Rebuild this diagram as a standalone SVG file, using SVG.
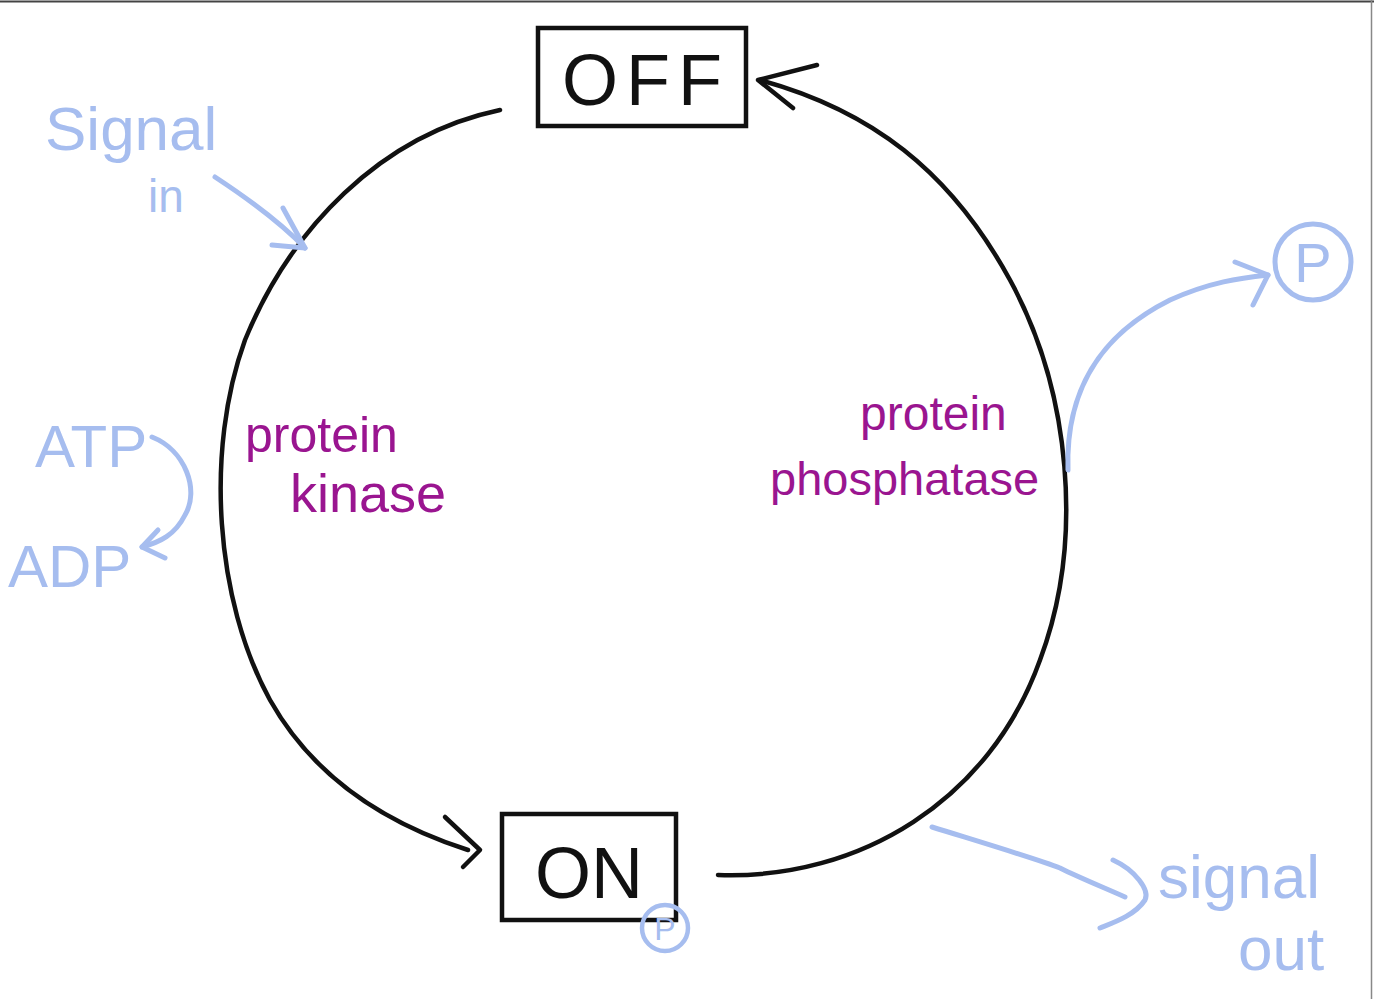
<svg xmlns="http://www.w3.org/2000/svg" width="1374" height="999" viewBox="0 0 1374 999">
<style>
.ink{fill:none;stroke:#111;stroke-width:4.5;stroke-linecap:round;stroke-linejoin:round}
.blue{fill:none;stroke:#a6bdef;stroke-width:5;stroke-linecap:round;stroke-linejoin:round}
.box{fill:#fff;stroke:#111;stroke-width:4.5}
.big{font-family:"Liberation Sans",Arial,sans-serif;font-size:72px;fill:#111}
.bt{font-family:"Liberation Sans",Arial,sans-serif;fill:#a6bdef}
.mt{font-family:"Liberation Sans",Arial,sans-serif;fill:#9a1590}
</style>
<rect x="0" y="0" width="1374" height="999" fill="#fff"/>
<line x1="0" y1="1.5" x2="1374" y2="1.5" stroke="#444" stroke-width="2"/>
<line x1="1371.5" y1="0" x2="1371.5" y2="999" stroke="#888" stroke-width="1.5"/>
<g id="connectors">
  <path class="ink" d="M500,110 C380,135 290,230 245,340 C205,450 215,600 270,700 C315,780 390,825 468,850"/>
  <path class="ink" d="M445,817 L480,850 L463,867"/>
  <path class="ink" d="M718,875 C860,880 990,800 1040,660 C1085,540 1070,390 1010,280 C950,170 870,110 760,80"/>
  <path class="ink" d="M817,65 L758,80 L793,108"/>
  <path class="blue" d="M215,177 C250,200 280,222 305,248"/>
  <path class="blue" d="M283,208 L305,248 L272,245"/>
  <path class="blue" d="M152,437 C185,450 200,490 185,515 C175,535 160,542 142,547"/>
  <path class="blue" d="M158,530 L142,547 L165,558"/>
  <path class="blue" d="M1068,470 C1065,380 1110,330 1170,300 C1210,282 1240,278 1268,275"/>
  <path class="blue" d="M1235,262 L1268,275 L1253,305"/>
  <path class="blue" d="M932,827 C990,845 1040,860 1060,868 C1080,878 1105,888 1125,897"/>
  <path class="blue" d="M1113,860 C1135,870 1150,890 1145,900 C1135,915 1115,922 1100,928"/>
</g>
<g id="off">
  <rect class="box" x="538" y="28" width="208" height="98"/>
  <text class="big" x="562" y="105" letter-spacing="8">OFF</text>
</g>
<g id="on">
  <rect class="box" x="502" y="814" width="174" height="106"/>
  <text class="big" x="535" y="898">ON</text>
  <circle cx="665" cy="928" r="23" fill="none" stroke="#a6bdef" stroke-width="4.5"/>
  <text class="bt" x="665" y="940" font-size="32" text-anchor="middle">P</text>
</g>
<g id="signal-in">
  <text class="bt" x="45" y="150" font-size="62">Signal</text>
  <text class="bt" x="148" y="212" font-size="46">in</text>
</g>
<g id="atp-adp">
  <text class="bt" x="35" y="467" font-size="60">ATP</text>
  <text class="bt" x="8" y="587" font-size="60">ADP</text>
</g>
<g id="kinase">
  <text class="mt" x="245" y="452" font-size="50">protein</text>
  <text class="mt" x="290" y="512" font-size="54">kinase</text>
</g>
<g id="phosphatase">
  <text class="mt" x="860" y="430" font-size="48">protein</text>
  <text class="mt" x="770" y="495" font-size="47">phosphatase</text>
</g>
<g id="p-out">
  <circle cx="1313" cy="262" r="38" fill="none" stroke="#a6bdef" stroke-width="5"/>
  <text class="bt" x="1313" y="282" font-size="56" text-anchor="middle">P</text>
</g>
<g id="signal-out">
  <text class="bt" x="1158" y="898" font-size="62">signal</text>
  <text class="bt" x="1238" y="970" font-size="62">out</text>
</g>
</svg>
